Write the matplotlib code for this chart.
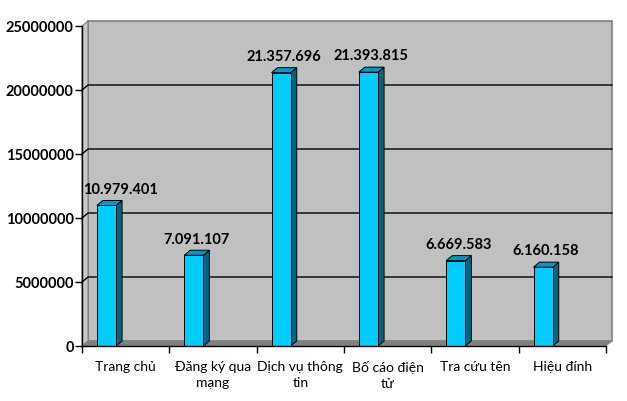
import numpy as np
import matplotlib
matplotlib.use('Agg')
import matplotlib.pyplot as plt
from matplotlib.patches import Polygon, Rectangle

# data
categories = ['Trang chủ', 'Đăng ký qua\nmạng', 'Dịch vụ thông\ntin',
              'Bố cáo điện\ntử', 'Tra cứu tên', 'Hiệu đính']
values = [10979401, 7091107, 21357696, 21393815, 6669583, 6160158]
y_ticks = [0, 5000000, 10000000, 15000000, 20000000, 25000000]

plt.rcParams['font.family'] = ['Lato', 'DejaVu Sans']

fig = plt.figure(figsize=(6.27, 4.02), dpi=100)
ax = fig.add_axes([82 / 627, 55 / 402, 524 / 627, 320 / 402])

n = len(categories)
ymax = y_ticks[-1]
ax.set_xlim(0, n)
ax.set_ylim(0, ymax)

# depth offset of the fake 3d box (6 px right, 5 px up)
dx = 6 / (524 / n)
dy = 5 * ymax / 320

wall_col = '#C0C0C0'
side_col = '#C8C8C8'
floor_col = '#808080'
edge_col = '#808080'

# back wall
ax.add_patch(Rectangle((dx, dy), n, ymax, facecolor=wall_col,
                       edgecolor=edge_col, lw=1.2, clip_on=False, zorder=1))
# left wall
ax.add_patch(Polygon([(0, 0), (0, ymax), (dx, ymax + dy), (dx, dy)],
                     facecolor=side_col, edgecolor=edge_col, lw=0.8,
                     clip_on=False, zorder=1))
# floor
ax.add_patch(Polygon([(0, 0), (n, 0), (n + dx, dy), (dx, dy)],
                     facecolor=floor_col, edgecolor=floor_col, lw=0.5,
                     clip_on=False, zorder=1.5))

# gridlines on left wall and back wall
for v in y_ticks[1:-1]:
    ax.plot([0, dx, n + dx], [v, v + dy, v + dy], color='black', lw=1.0,
            clip_on=False, zorder=2)

# bars
front_col = '#00CCFF'
top_col = '#0099CC'
dark_col = '#006680'
bw = 0.22
for i, v in enumerate(values):
    x0 = i + 0.17
    x1 = x0 + bw
    ax.add_patch(Polygon([(x1, 0), (x1, v), (x1 + dx, v + dy), (x1 + dx, dy)],
                         facecolor=dark_col, edgecolor='black', lw=0.7,
                         clip_on=False, zorder=3))
    ax.add_patch(Polygon([(x0, v), (x1, v), (x1 + dx, v + dy), (x0 + dx, v + dy)],
                         facecolor=top_col, edgecolor='black', lw=0.7,
                         clip_on=False, zorder=3))
    ax.add_patch(Rectangle((x0, 0), bw, v, facecolor=front_col,
                           edgecolor='black', lw=0.7, clip_on=False, zorder=4))
    label = f'{v:,}'.replace(',', '.')
    xc = x0 + bw / 2 + 0.03
    if i == 0:
        # first label is pushed right so it does not cross the axis
        ax.annotate(label, (0.01, v), xytext=(0, 12), textcoords='offset points',
                    ha='left', va='center', fontsize=10.5, fontweight='bold',
                    zorder=5, annotation_clip=False)
    else:
        ax.annotate(label, (xc, v), xytext=(0, 12), textcoords='offset points',
                    ha='center', va='center', fontsize=10.5, fontweight='bold',
                    zorder=5, annotation_clip=False)

# axes
for s in ['top', 'right']:
    ax.spines[s].set_visible(False)
for s in ['left', 'bottom']:
    ax.spines[s].set_color('black')
    ax.spines[s].set_linewidth(1.0)
    ax.spines[s].set_zorder(6)

ax.set_yticks(y_ticks)
ax.set_yticklabels([str(t) for t in y_ticks], fontsize=10.5, fontweight='bold')
ax.tick_params(axis='y', direction='out', length=5, width=1, pad=1)

ax.set_xticks(np.arange(n + 1))
ax.set_xticklabels([])
ax.set_xticks(np.arange(n) + 0.5, minor=True)
ax.set_xticklabels(categories, minor=True, fontsize=10, linespacing=1.45)
ax.tick_params(axis='x', which='major', direction='out', length=5, width=1)
ax.tick_params(axis='x', which='minor', length=0, pad=10)

fig.savefig('out.png', dpi=100)
